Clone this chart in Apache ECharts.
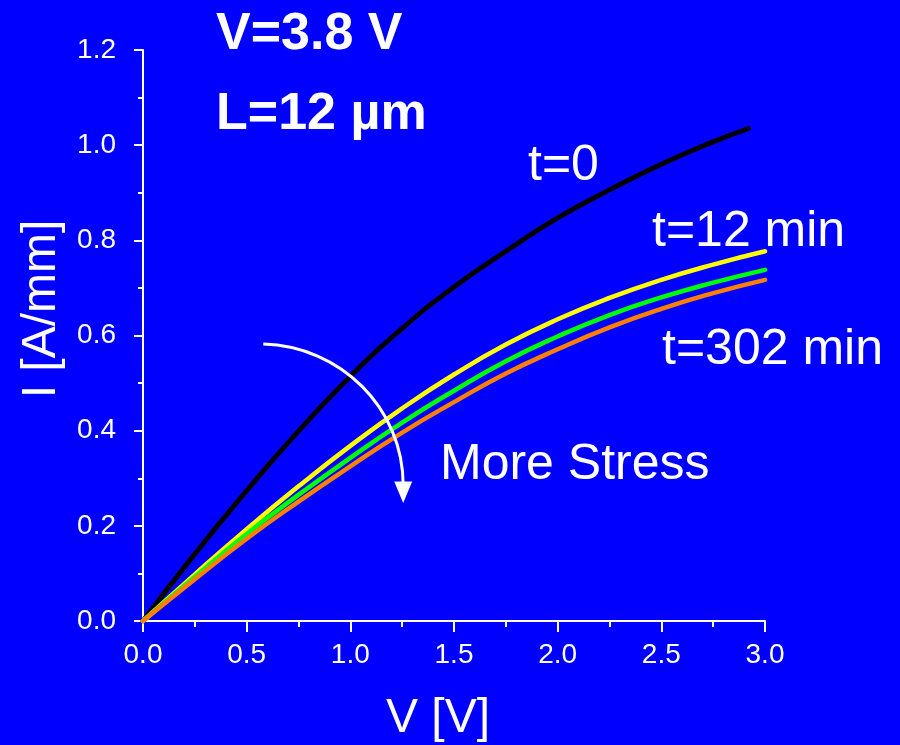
<!DOCTYPE html>
<html>
<head>
<meta charset="utf-8">
<script src="https://cdn.jsdelivr.net/npm/echarts@6/dist/echarts.min.js"></script>
<style>
  html, body { margin: 0; padding: 0; background: #0000ff; }
  #chart { width: 900px; height: 745px; }
</style>
</head>
<body>
<div id="chart"></div>
<script>
// Drain voltage sweep points [V]
var voltage = [0, 0.25, 0.5, 0.75, 1.0, 1.25, 1.5, 1.75, 2.0, 2.25, 2.5, 2.75, 3.0];
var voltageFresh = [0, 0.25, 0.5, 0.75, 1.0, 1.25, 1.5, 1.75, 2.0, 2.25, 2.5, 2.75, 2.92];

// Drain current [A/mm] at successive stress times
var currentT0 = [0, 0.141, 0.274, 0.399, 0.514, 0.615, 0.702, 0.777, 0.847, 0.906, 0.960, 1.007, 1.035];
var currentT12 = [0, 0.098, 0.193, 0.283, 0.368, 0.447, 0.518, 0.581, 0.634, 0.679, 0.717, 0.749, 0.777];
var currentMid = [0, 0.093, 0.183, 0.265, 0.343, 0.417, 0.484, 0.546, 0.598, 0.643, 0.680, 0.711, 0.738];
var currentT302 = [0, 0.088, 0.173, 0.251, 0.325, 0.396, 0.460, 0.520, 0.571, 0.617, 0.656, 0.689, 0.717];

var seriesNames = ['t=0', 't=12 min', 't=mid', 't=302 min'];
var seriesColors = ['#000000', '#ffff00', '#00ff00', '#ff8000'];

var FONT = 'Arial, "Liberation Sans", sans-serif';

function pairs(xs, ys) {
  return xs.map(function (x, i) { return [x, ys[i]]; });
}

var chart = echarts.init(document.getElementById('chart'), null, { renderer: 'canvas' });

var curves = [
  pairs(voltageFresh, currentT0),
  pairs(voltage, currentT12),
  pairs(voltage, currentMid),
  pairs(voltage, currentT302)
];

var axisStyle = {
  axisLine: { show: true, onZero: false, lineStyle: { color: '#ffffff', width: 2 } },
  splitLine: { show: false },
  minorSplitLine: { show: false }
};

chart.setOption({
  backgroundColor: '#0000ff',
  animation: false,
  grid: { left: 143, right: 135, top: 50, bottom: 124 },
  xAxis: Object.assign({
    type: 'value',
    min: 0, max: 3.0, interval: 0.5,
    axisTick: { show: true, inside: false, length: 11, lineStyle: { color: '#ffffff', width: 2 } },
    minorTick: { show: true, splitNumber: 2, length: 6, lineStyle: { color: '#ffffff', width: 2 } },
    axisLabel: { color: '#ffffff', fontSize: 28, fontFamily: FONT, margin: 20,
      formatter: function (v) { return v.toFixed(1); } }
  }, axisStyle),
  yAxis: Object.assign({
    type: 'value',
    min: 0, max: 1.2, interval: 0.2,
    axisTick: { show: true, inside: false, length: 9, lineStyle: { color: '#ffffff', width: 2 } },
    minorTick: { show: true, splitNumber: 2, length: 5, lineStyle: { color: '#ffffff', width: 2 } },
    axisLabel: { color: '#ffffff', fontSize: 28, fontFamily: FONT, margin: 27,
      formatter: function (v) { return v.toFixed(1); } }
  }, axisStyle),
  series: curves.map(function (d, i) {
    return {
      name: seriesNames[i],
      type: 'line',
      data: d,
      smooth: true,
      showSymbol: false,
      z: 2 + i,
      lineStyle: { color: seriesColors[i], width: i === 0 ? 5 : 4.5, cap: 'round' }
    };
  })
});

// Annotations: labels and the "More Stress" arrow
function px(v, i) { return chart.convertToPixel({ gridIndex: 0 }, [v, i]); }

var arrowStart = px(0.58, 0.582);
var arrowEnd = px(1.255, 0.285);
var arrowTip = px(1.255, 0.248);
var ctrl1 = [arrowStart[0] + 0.55 * (arrowEnd[0] - arrowStart[0]), arrowStart[1] + 2];
var ctrl2 = [arrowEnd[0], arrowEnd[1] - 0.55 * (arrowEnd[1] - arrowStart[1])];

function label(text, x, y, size, weight, align) {
  return {
    type: 'text',
    style: {
      x: x, y: y, text: text,
      fill: '#ffffff',
      font: (weight || 'normal') + ' ' + size + 'px ' + FONT,
      textAlign: align || 'left',
      textVerticalAlign: 'middle'
    },
    z: 10
  };
}

var yName = label('I [A/mm]', 0, 0, 48, 'normal', 'center');
yName.x = 42; yName.y = 309; yName.rotation = Math.PI / 2;

chart.setOption({
  graphic: [
    label('V=3.8 V', 216, 35, 52, 'bold'),
    label('L=12 \u00b5m', 216, 115, 52, 'bold'),
    label('t=0', 528, 166, 50),
    label('t=12 min', 652, 232, 50),
    label('t=302 min', 662, 350, 50),
    label('More Stress', 440, 465, 50),
    label('V [V]', 438, 719, 48, 'normal', 'center'),
    yName,
    {
      type: 'bezierCurve',
      shape: {
        x1: arrowStart[0], y1: arrowStart[1],
        cpx1: ctrl1[0], cpy1: ctrl1[1],
        cpx2: ctrl2[0], cpy2: ctrl2[1],
        x2: arrowEnd[0], y2: arrowEnd[1]
      },
      style: { stroke: '#ffffff', lineWidth: 3, fill: null },
      z: 9
    },
    {
      type: 'polygon',
      shape: {
        points: [
          [arrowTip[0], arrowTip[1]],
          [arrowTip[0] - 9, arrowEnd[1] - 4],
          [arrowTip[0] + 9, arrowEnd[1] - 4]
        ]
      },
      style: { fill: '#ffffff' },
      z: 9
    }
  ]
});
</script>
</body>
</html>
